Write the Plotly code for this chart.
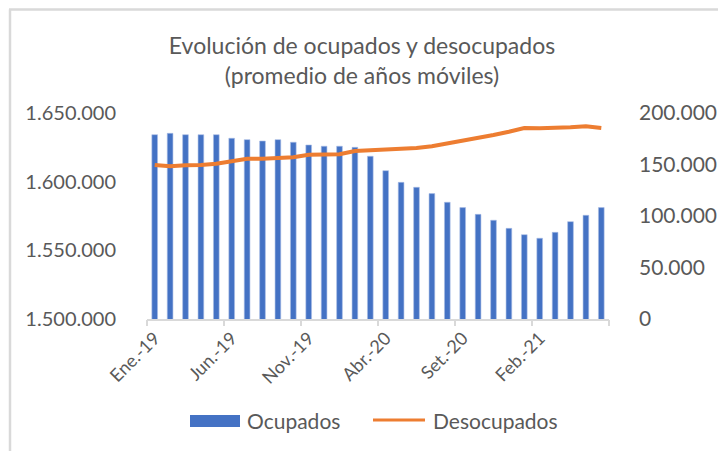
import plotly.graph_objects as go

months = ["Ene.-19","Feb.-19","Mar.-19","Abr.-19","May.-19","Jun.-19","Jul.-19","Ago.-19","Set.-19","Oct.-19",
          "Nov.-19","Dic.-19","Ene.-20","Feb.-20","Mar.-20","Abr.-20","May.-20","Jun.-20","Jul.-20","Ago.-20",
          "Set.-20","Oct.-20","Nov.-20","Dic.-20","Ene.-21","Feb.-21","Mar.-21","Abr.-21","May.-21","Jun.-21"]

ocupados = [1634200, 1635200, 1634200, 1634200, 1634200, 1631600, 1630600, 1629600, 1630600, 1628700,
            1626700, 1625800, 1625800, 1625000, 1618500, 1608000, 1599500, 1595900, 1591300, 1585000,
            1581100, 1576200, 1571900, 1566000, 1561400, 1558800, 1563100, 1570900, 1575500, 1581100]

desocupados = [149500, 148300, 149200, 149500, 150800, 153400, 155600, 155600, 156600, 157000,
               159500, 159900, 159900, 163100, 163800, 164400, 164800, 166000, 167700, 170200,
               173100, 176000, 178600, 181800, 185400, 185200, 185200, 186100, 187100, 185400]

left_ticks = [1500000, 1550000, 1600000, 1650000]
left_labels = ["1.500.000", "1.550.000", "1.600.000", "1.650.000"]
right_ticks = [0, 50000, 100000, 150000, 200000]
right_labels = ["0", "50.000", "100.000", "150.000", "200.000"]

label_idx = list(range(0, len(months), 5))
label_text = [months[i] for i in label_idx]

FONT = "Lato"
GREY = "#595959"
BLUE = "#4472C4"
ORANGE = "#ED7D31"
W, H = 726, 451
OFF = 8  # page body offset of the figure

def fx(x): return (x - OFF) / W
def fy(y): return 1 - (y - OFF) / H

xs = list(range(len(months)))

fig = go.Figure()
fig.add_trace(go.Bar(
    x=xs, y=ocupados, name="Ocupados",
    marker=dict(color=BLUE, line=dict(color="#A9BEE6", width=0.6)),
    yaxis="y", showlegend=False,
))
fig.add_trace(go.Scatter(
    x=xs, y=desocupados, name="Desocupados", mode="lines",
    line=dict(color=ORANGE, width=4),
    yaxis="y2", showlegend=False,
))
# invisible trace that activates the boundary tick axis
fig.add_trace(go.Scatter(x=[0], y=[None], xaxis="x2", yaxis="y", showlegend=False, hoverinfo="skip"))

fig.update_layout(
    width=W, height=H,
    margin=dict(l=0, r=0, t=0, b=0, autoexpand=False),
    paper_bgcolor="white", plot_bgcolor="white",
    bargap=0.63,
    showlegend=False,
    title=dict(text="Evolución de ocupados y desocupados<br>(promedio de años móviles)",
               x=fx(362), xanchor="center", xref="paper", y=fy(54), yanchor="top",
               font=dict(family=FONT, size=23, color=GREY)),
    xaxis=dict(
        domain=[fx(147), fx(609)],
        range=[-0.5, len(months) - 0.5],
        tickmode="array", tickvals=label_idx, ticktext=label_text,
        tickangle=-45, tickfont=dict(family=FONT, size=18, color=GREY),
        showgrid=False, zeroline=False,
        showline=True, linecolor="#D9D9D9", linewidth=1.5,
        ticks="",
    ),
    xaxis2=dict(
        domain=[fx(147), fx(609)],
        overlaying="x", side="bottom", anchor="y",
        range=[-0.5, len(months) - 0.5],
        tickmode="array", tickvals=[i - 0.5 for i in range(0, len(months) + 1, 5)],
        ticktext=["" for _ in range(0, len(months) + 1, 5)],
        ticks="outside", ticklen=6, tickcolor="#D9D9D9", tickwidth=1.5,
        showgrid=False, zeroline=False, showline=False,
    ),
    yaxis=dict(
        domain=[fy(319), fy(113)],
        range=[1500000, 1650000], tickmode="array", tickvals=left_ticks, ticktext=left_labels,
        tickfont=dict(family=FONT, size=20, color=GREY), showgrid=False, zeroline=False,
        showline=False, ticks="", ticklabelstandoff=30,
    ),
    yaxis2=dict(
        range=[0, 200000], overlaying="y", side="right", anchor="x", tickmode="array",
        tickvals=right_ticks, ticktext=right_labels,
        tickfont=dict(family=FONT, size=21, color=GREY), showgrid=False, zeroline=False,
        showline=False, ticks="", ticklabelstandoff=29,
    ),
    shapes=[
        # chart frame (top and left edges visible)
        dict(type="line", xref="paper", yref="paper", x0=fx(9), x1=1, y0=fy(9.5), y1=fy(9.5),
             line=dict(color="#D9D9D9", width=2.5)),
        dict(type="line", xref="paper", yref="paper", x0=fx(10), x1=fx(10), y0=fy(9.5), y1=0,
             line=dict(color="#D9D9D9", width=2.5)),
        # legend keys
        dict(type="rect", xref="paper", yref="paper", x0=fx(190), x1=fx(240), y0=fy(427), y1=fy(415),
             fillcolor=BLUE, line=dict(width=0)),
        dict(type="line", xref="paper", yref="paper", x0=fx(373), x1=fx(425), y0=fy(420), y1=fy(420),
             line=dict(color=ORANGE, width=3)),
    ],
    annotations=[
        dict(text="Ocupados", xref="paper", yref="paper", x=fx(245), y=fy(420), xanchor="left",
             yanchor="middle", showarrow=False, font=dict(family=FONT, size=21, color=GREY)),
        dict(text="Desocupados", xref="paper", yref="paper", x=fx(431), y=fy(420), xanchor="left",
             yanchor="middle", showarrow=False, font=dict(family=FONT, size=21, color=GREY)),
    ],
)

fig.write_html("out.html")
